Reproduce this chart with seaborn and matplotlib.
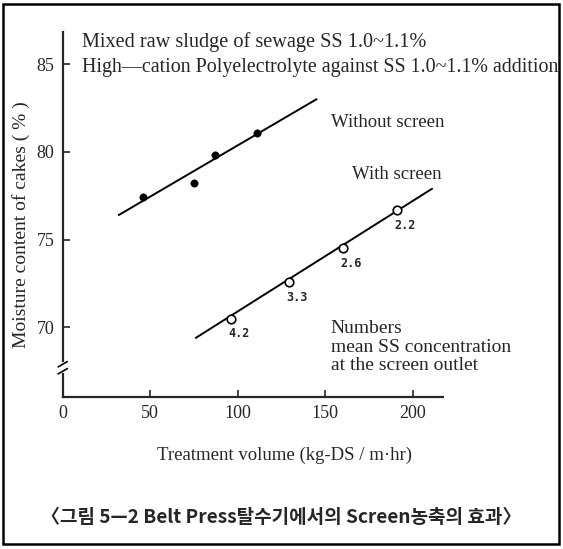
import matplotlib
matplotlib.use("Agg")
import matplotlib.pyplot as plt
import matplotlib.transforms as mtransforms
from matplotlib.patches import Rectangle
import seaborn as sns
import pandas as pd

# Données
without_x = [46, 75, 87, 111]
without_y = [77.4, 78.2, 79.8, 81.1]
without_fit_x = [32, 145]
without_fit_y = [76.4, 83.0]

with_x = [96, 129, 160, 191]
with_y = [70.5, 72.6, 74.5, 76.7]
with_labels = ["4.2", "3.3", "2.6", "2.2"]
with_fit_x = [76, 211]
with_fit_y = [69.4, 77.9]

x_ticks = [0, 50, 100, 150, 200]
y_ticks = [70, 75, 80, 85]

sns.set_style("ticks")
plt.rcParams['font.family'] = ['Liberation Serif', 'DejaVu Serif']

fig = plt.figure(figsize=(5.63, 5.49), dpi=100)
ax = fig.add_axes([0.1114, 0.2774, 0.676, 0.665])

df_without = pd.DataFrame({'x': without_x, 'y': without_y})
df_with = pd.DataFrame({'x': with_x, 'y': with_y})

# lignes de tendance
sns.lineplot(x=without_fit_x, y=without_fit_y, color='black', lw=1.4, ax=ax)
sns.lineplot(x=with_fit_x, y=with_fit_y, color='black', lw=1.4, ax=ax)

# points
sns.scatterplot(data=df_without, x='x', y='y', color='black', s=28,
                edgecolor='black', ax=ax, zorder=3)
sns.scatterplot(data=df_with, x='x', y='y', color='white', s=38,
                edgecolor='black', linewidth=1.2, ax=ax, zorder=3)

for xv, yv, lab in zip(with_x, with_y, with_labels):
    ax.annotate(lab, (xv, yv), xytext=(6, -11), textcoords='offset points',
                ha='center', va='center', fontsize=8.5, fontweight='bold',
                family='DejaVu Sans Mono')

ax.set_xlim(0, 217.4)
ax.set_ylim(66.05, 86.85)
ax.set_xticks(x_ticks)
ax.set_yticks(y_ticks)
ax.set_xticklabels([str(t) for t in x_ticks])
ax.set_yticklabels([str(t) for t in y_ticks])
ax.tick_params(direction='in', length=5, width=1.2, labelsize=13, pad=6)
ax.xaxis.get_major_ticks()[0].tick1line.set_visible(False)
sns.despine(ax=ax)
for sp in ['left', 'bottom']:
    ax.spines[sp].set_linewidth(1.6)

ax.set_xlabel("Treatment volume (kg-DS / m·hr)", fontsize=13.5)
ax.xaxis.set_label_coords(0.582, -0.137)
ax.set_ylabel("Moisture content of cakes ( % )", fontsize=14)
ax.yaxis.set_label_coords(-0.086, 0.47)

# coupure de l'axe y
trans = mtransforms.blended_transform_factory(ax.transAxes, ax.transData)
ax.plot([0, 0], [67.5, 67.9], color='white', lw=3, transform=trans,
        clip_on=False, zorder=4)
ax.plot([-0.012, 0.012], [67.35, 67.65], color='black', lw=1.2,
        transform=trans, clip_on=False, zorder=5)
ax.plot([-0.012, 0.012], [67.75, 68.05], color='black', lw=1.2,
        transform=trans, clip_on=False, zorder=5)

# textes
ax.text(11, 86.25, "Mixed raw sludge of sewage SS 1.0~1.1%", fontsize=14.6,
        va='center')
ax.text(11, 84.8, "High—cation Polyelectrolyte against SS 1.0~1.1% addition",
        fontsize=14.4, va='center')
ax.text(153, 81.7, "Without screen", fontsize=13.5, va='center')
ax.text(165, 78.7, "With screen", fontsize=13.5, va='center')
ax.text(153, 70.4, "Numbers\nmean SS concentration\nat the screen outlet",
        fontsize=14, va='top', linespacing=1.12)

fig.text(0.5, 0.057, "〈그림 5—2 Belt Press탈수기에서의 Screen농축의 효과〉",
         ha='center', va='center', fontsize=13.7, fontweight='bold',
         family=['Noto Sans CJK KR', 'DejaVu Sans'])

fig.patches.append(Rectangle((0.006, 0.009), 0.987, 0.984,
                             transform=fig.transFigure, fill=False,
                             lw=1.8, edgecolor='black'))

plt.savefig('out.png', dpi=100, facecolor='white')
